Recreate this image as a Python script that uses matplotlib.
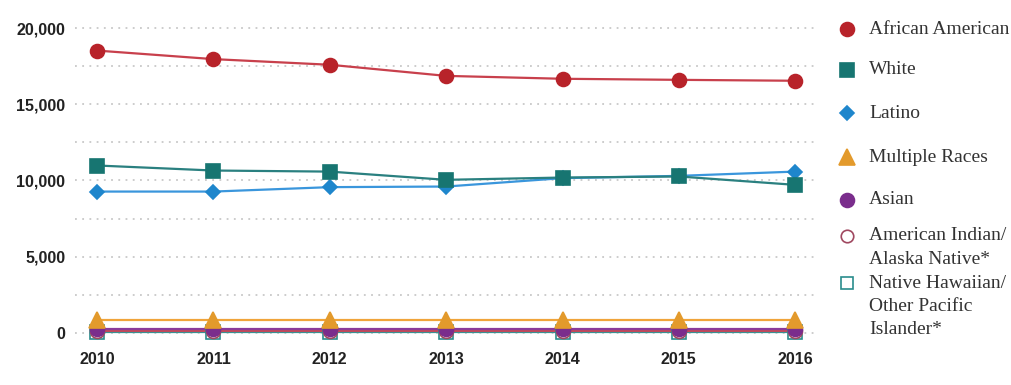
import matplotlib.pyplot as plt

years = [2010, 2011, 2012, 2013, 2014, 2015, 2016]
african_american = [18520, 17960, 17590, 16860, 16670, 16600, 16540]
white = [10980, 10650, 10580, 10040, 10190, 10260, 9710]
latino = [9270, 9270, 9560, 9600, 10150, 10300, 10580]
multiple_races = [850, 850, 850, 850, 850, 850, 850]
asian = [260, 260, 260, 260, 260, 260, 260]
american_indian = [150, 150, 150, 150, 150, 150, 150]
native_hawaiian = [40, 40, 40, 40, 40, 40, 40]

labels = ['African American', 'White', 'Latino', 'Multiple Races', 'Asian',
          'American Indian/\nAlaska Native*',
          'Native Hawaiian/\nOther Pacific\nIslander*']

fig = plt.figure(figsize=(10.11, 3.85), dpi=100)
ax = fig.add_axes([75 / 1011, 0.1117, (815 - 75) / 1011, 0.947 - 0.1117])

# (data, colour, line colour, marker, filled)
styles = [
    (african_american, '#b8232a', '#c8404c', 'o', True),
    (white, '#177571', '#2a8080', 's', True),
    (latino, '#1e86cc', '#3a96dc', 'D', True),
    (multiple_races, '#e39a2c', '#f0a43a', '^', True),
    (asian, '#7a2d8c', '#8a3a9a', 'o', True),
    (american_indian, '#a04860', '#c04a5a', 'o', False),
    (native_hawaiian, '#2a8c8c', '#2a9a9a', 's', False),
]
sizes = {'o': 10, 's': 10, 'D': 7.5, '^': 11}

for vals, c, lc, m, filled in reversed(styles):
    ax.plot(years, vals, color=lc, lw=1.6, zorder=2)
    ax.plot(years, vals, ls='none', marker=m, markersize=sizes[m],
            markerfacecolor=c if filled else 'white', markeredgecolor=c,
            markeredgewidth=1.2, zorder=3)

ax.set_xlim(2009.81, 2016.17)
ax.set_ylim(-600, 20500)
ax.set_xticks(years)
ax.set_yticks(range(0, 20001, 2500))
ax.set_yticklabels(['{:,}'.format(v) if v % 5000 == 0 else '' for v in range(0, 20001, 2500)])
ax.grid(axis='y', color='#c8c8c8', ls=(0, (1, 3)), lw=1.3)
ax.set_axisbelow(True)
for s in ax.spines.values():
    s.set_visible(False)
ax.tick_params(length=0, labelsize=11.5, colors='#222222')
ax.tick_params(axis='y', pad=7)
ax.tick_params(axis='x', pad=7)
for t in ax.get_xticklabels() + ax.get_yticklabels():
    t.set_fontfamily('Liberation Sans')
    t.set_fontweight('bold')

# legend drawn in pixel coordinates on the right
lax = fig.add_axes([0, 0, 1, 1])
lax.set_xlim(0, 1011)
lax.set_ylim(385, 0)
lax.axis('off')
row_y = [29, 70, 113, 157, 200, 236, 283]
for (vals, c, lc, m, filled), lab, y in zip(styles, labels, row_y):
    lax.plot([847], [y], ls='none', marker=m, markersize=sizes[m] + (0 if filled else -1),
             markerfacecolor=c if filled else 'white', markeredgecolor=c,
             markeredgewidth=1.2)
    for i, line in enumerate(lab.split('\n')):
        lax.text(869, y + i * 23.5, line, va='center', ha='left', fontsize=14,
                 family='Liberation Serif', color='#333333')

fig.savefig('out.png', dpi=100)
